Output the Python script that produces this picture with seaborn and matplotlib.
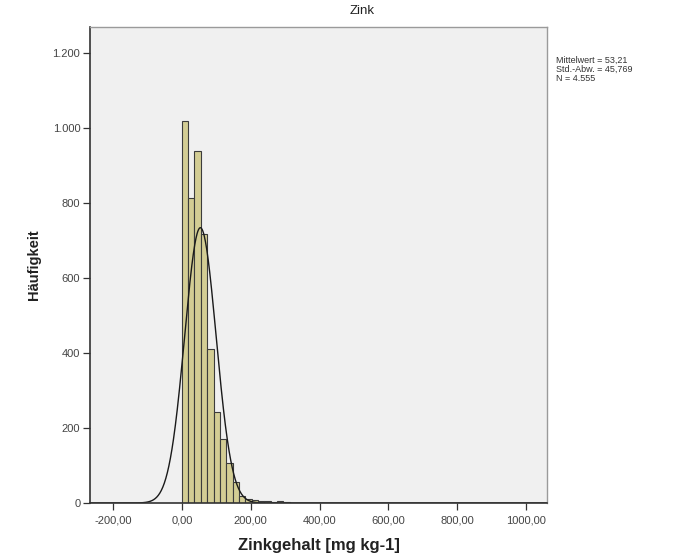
import numpy as np
import pandas as pd
import seaborn as sns
import matplotlib
matplotlib.use("Agg")
import matplotlib.pyplot as plt

# Zinc content histogram (counts per class) with fitted normal curve
bin_start = -1.0
bin_width = 18.5
counts = [1020, 815, 938, 717, 411, 244, 171, 107, 56, 20,
          12, 8, 6, 5, 3, 6, 2, 1, 1]
mean_val = 53.21
std_val = 45.769
n_total = 4555

x_ticks = [-200, 0, 200, 400, 600, 800, 1000]
x_ticklabels = ["-200,00", "0,00", "200,00", "400,00", "600,00", "800,00", "1000,00"]
y_ticks = [0, 200, 400, 600, 800, 1000, 1200]
y_ticklabels = ["0", "200", "400", "600", "800", "1.000", "1.200"]

n_bins = len(counts)
edges = bin_start + bin_width * np.arange(n_bins + 1)
centers = (edges[:-1] + edges[1:]) / 2
df = pd.DataFrame({"zink": centers, "n": counts})

sns.set_theme(style="white")
plt.rcParams["font.family"] = ["Liberation Sans", "DejaVu Sans"]

fig = plt.figure(figsize=(6.82, 5.57), dpi=100)
ax = fig.add_axes([90 / 682, 1 - 503 / 557, (547 - 90) / 682, (503 - 27) / 557])
ax.set_facecolor("#F0F0F0")

sns.histplot(data=df, x="zink", weights="n", binwidth=bin_width,
             binrange=(edges[0], edges[-1]), ax=ax,
             color="#D3CD94", edgecolor="#3C3C3C", linewidth=0.8, alpha=1.0)

# normal curve scaled to counts per class
xs = np.linspace(-268, 1062, 1200)
pdf = np.exp(-0.5 * ((xs - mean_val) / std_val) ** 2) / (std_val * np.sqrt(2 * np.pi))
ax.plot(xs, pdf * n_total * bin_width, color="#1A1A1A", linewidth=1.0)

ax.set_xlim(-268, 1062)
ax.set_ylim(0, 1270)
ax.set_xticks(x_ticks)
ax.set_xticklabels(x_ticklabels)
ax.set_yticks(y_ticks)
ax.set_yticklabels(y_ticklabels)
ax.tick_params(axis="both", direction="out", length=5, width=0.9,
               colors="#333333", labelsize=8, labelcolor="#444444", pad=2)
ax.tick_params(axis="x", pad=4)
ax.tick_params(bottom=True, left=True)

for side in ("left", "bottom"):
    ax.spines[side].set_color("#333333")
    ax.spines[side].set_linewidth(1.2)
for side in ("top", "right"):
    ax.spines[side].set_color("#9A9A9A")
    ax.spines[side].set_linewidth(1.0)

ax.set_xlabel("Zinkgehalt [mg kg-1]", fontsize=12, fontweight="bold",
              color="#222222", labelpad=9)
ax.set_ylabel("Häufigkeit", fontsize=10.5, fontweight="bold",
              color="#222222", labelpad=8)

fig.text(362 / 682, 1 - 11 / 557, "Zink", fontsize=9.5, color="#222222",
         ha="center", va="center")

fig.text(556 / 682, 1 - 56 / 557,
         "Mittelwert = 53,21\nStd.-Abw. = 45,769\nN = 4.555",
         fontsize=6.5, color="#333333", va="top", ha="left", linespacing=1.0)

fig.savefig("out.png", dpi=100, facecolor="white")
